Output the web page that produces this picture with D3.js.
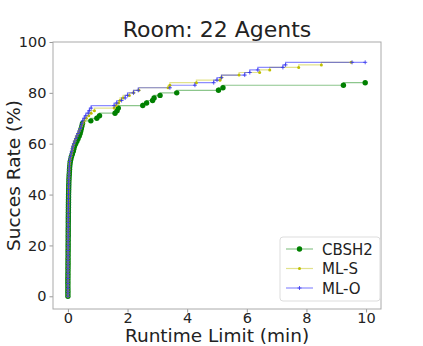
<!DOCTYPE html>
<html><head><meta charset="utf-8">
<script src="https://cdn.jsdelivr.net/npm/d3@7"></script>
<style>body{margin:0;background:#fff}svg{display:block}text{font-family:"DejaVu Sans",sans-serif;fill:#222}</style>
</head><body>
<svg id="c" width="423" height="346"></svg>
<script>
const title = "Room: 22 Agents";
const xLabel = "Runtime Limit (min)";
const yLabel = "Succes Rate (%)";
const xTicks = [0, 2, 4, 6, 8, 10];
const yTicks = [0, 20, 40, 60, 80, 100];
const seriesNames = ["CBSH2", "ML-S", "ML-O"];
// runtimes (min) at which the success rate reaches each successive value
const cbsh2Time = [0,0,0,0,0,0,0,0,0.002,0.002,0.003,0.003,0.004,0.004,0.005,0.005,0.006,0.006,0.007,0.007,0.008,0.008,0.009,0.009,0.01,0.01,0.011,0.011,0.012,0.012,0.013,0.013,0.014,0.015,0.016,0.017,0.018,0.019,0.02,0.021,0.022,0.024,0.026,0.028,0.03,0.033,0.036,0.04,0.045,0.05,0.055,0.06,0.07,0.08,0.1,0.12,0.15,0.18,0.2,0.22,0.26,0.3,0.34,0.38,0.41,0.43,0.45,0.47,0.49,0.77,0.97,1.06,1.58,1.65,1.69,2.51,2.64,2.84,2.89,3.09,3.65,5.05,5.2,9.24,9.97];
const cbsh2Rate = [0,1,2,3,4,5,6,7,8,9,10,11,12,13,14,15,16,17,18,19,20,21,22,23,24,25,26,27,28,29,30,31,32,33,34,35,36,37,38,39,40,41,42,43,44,45,46,47,48,49,50,51,52,53,54,55,56,57,58,59,60,61,62,63,64,65,66,67,68,69,70,71,72,73,74,75,76,77,78,79,80,81,82,83,84];
const mlsTime = [0,0,0,0,0,0,0,0,0.001,0.001,0.002,0.002,0.003,0.003,0.004,0.004,0.005,0.005,0.006,0.006,0.007,0.007,0.008,0.008,0.009,0.009,0.01,0.01,0.011,0.011,0.012,0.012,0.013,0.014,0.015,0.016,0.017,0.018,0.019,0.02,0.021,0.022,0.023,0.025,0.027,0.029,0.031,0.034,0.037,0.04,0.044,0.048,0.055,0.065,0.08,0.1,0.12,0.14,0.16,0.18,0.2,0.23,0.26,0.3,0.34,0.38,0.42,0.46,0.5,0.55,0.62,0.7,0.78,0.89,1.55,1.62,1.7,1.75,1.85,2.06,2.2,2.38,3.36,3.42,4.31,5.1,5.15,5.74,6.43,6.77,7.74,8.5,9.5];
const mlsRate = [0,1,2,3,4,5,6,7,8,9,10,11,12,13,14,15,16,17,18,19,20,21,22,23,24,25,26,27,28,29,30,31,32,33,34,35,36,37,38,39,40,41,42,43,44,45,46,47,48,49,50,51,52,53,54,55,56,57,58,59,60,61,62,63,64,65,66,67,68,69,70,71,72,73,74,75,76,77,78,79,80,81,82,83,84,85,86,87,88,89,90,91,92,92];
const mloTime = [0,0,0,0,0,0,0,0,0.001,0.001,0.002,0.002,0.003,0.003,0.004,0.004,0.005,0.005,0.006,0.006,0.007,0.007,0.008,0.008,0.009,0.009,0.01,0.01,0.011,0.011,0.012,0.012,0.013,0.014,0.015,0.016,0.017,0.018,0.019,0.02,0.021,0.022,0.023,0.025,0.027,0.029,0.031,0.034,0.037,0.04,0.043,0.047,0.052,0.06,0.07,0.09,0.11,0.13,0.15,0.17,0.2,0.23,0.27,0.3,0.34,0.38,0.42,0.45,0.47,0.5,0.55,0.6,0.68,0.72,0.78,1.55,1.64,1.8,1.92,2.0,2.2,2.36,3.42,4.26,4.89,5.0,5.15,5.93,6.1,6.37,7.21,7.3,9.53,9.97];
const mloRate = [0,1,2,3,4,5,6,7,8,9,10,11,12,13,14,15,16,17,18,19,20,21,22,23,24,25,26,27,28,29,30,31,32,33,34,35,36,37,38,39,40,41,42,43,44,45,46,47,48,49,50,51,52,53,54,55,56,57,58,59,60,61,62,63,64,65,66,67,68,69,70,71,72,73,74,75,76,77,78,79,80,81,82,83,84,85,86,87,88,89,90,91,92,92];

const series = [
  {name: seriesNames[0], t: cbsh2Time, r: cbsh2Rate, color: "#008000", marker: "dot", mcolor: "#008000", size: 2.7},
  {name: seriesNames[1], t: mlsTime, r: mlsRate, color: "#bfbf00", marker: "dot", mcolor: "#bfbf00", size: 1.5},
  {name: seriesNames[2], t: mloTime, r: mloRate, color: "#0000ff", marker: "plus", mcolor: "#3333ee", size: 2}
];

const svg = d3.select("#c");
const L = 53, R = 381, T = 42, B = 309;
const x = d3.scaleLinear().domain([-0.5, 10.5]).range([L, R]);
const y = d3.scaleLinear().domain([-5, 100]).range([B, T]);

// axes
const xa = svg.append("g").attr("transform", `translate(0,${B})`)
  .call(d3.axisBottom(x).tickValues(xTicks).tickSize(3.5).tickPadding(0).tickFormat(d3.format("d")));
const ya = svg.append("g").attr("transform", `translate(${L},0)`)
  .call(d3.axisLeft(y).tickValues(yTicks).tickSize(3.5).tickPadding(3).tickFormat(d3.format("d")));
[xa, ya].forEach(a => {
  a.select(".domain").remove();
  a.selectAll(".tick line").attr("stroke", "#999");
  a.selectAll(".tick text").style("font-size", "14.5px").style("font-family", "DejaVu Sans").attr("fill", "#222");
});
// spines
svg.append("rect").attr("x", L).attr("y", T).attr("width", R - L).attr("height", B - T)
  .attr("fill", "none").attr("stroke", "#aaa").attr("stroke-width", 1);

const plot = svg.append("g");
series.forEach(s => {
  const pts = s.t.map((t, i) => [t, s.r[i]]);
  const line = d3.line().x(d => x(d[0])).y(d => y(d[1])).curve(d3.curveStepBefore);
  plot.append("path").attr("d", line(pts)).attr("fill", "none")
    .attr("stroke", s.color).attr("stroke-opacity", 0.45).attr("stroke-width", 1.2);
});
series.forEach(s => {
  const pts = s.t.map((t, i) => [t, s.r[i]]);
  const g = plot.append("g");
  if (s.marker === "dot") {
    g.selectAll("circle").data(pts).join("circle")
      .attr("cx", d => x(d[0])).attr("cy", d => y(d[1])).attr("r", s.size).attr("fill", s.mcolor);
  } else {
    g.selectAll("path").data(pts).join("path")
      .attr("d", d => `M${x(d[0]) - s.size},${y(d[1])}h${2 * s.size}M${x(d[0])},${y(d[1]) - s.size}v${2 * s.size}`)
      .attr("stroke", s.mcolor).attr("stroke-width", 0.8).attr("fill", "none");
  }
});

// title and labels
svg.append("text").attr("x", (L + R) / 2).attr("y", 37).attr("text-anchor", "middle")
  .style("font-size", "22px").text(title);
svg.append("text").attr("x", (L + R) / 2).attr("y", 342).attr("text-anchor", "middle")
  .style("font-size", "18.5px").text(xLabel);
svg.append("text").attr("transform", `translate(20,${(T + B) / 2}) rotate(-90)`).attr("text-anchor", "middle")
  .style("font-size", "18.5px").text(yLabel);

// legend
const lg = svg.append("g");
lg.append("rect").attr("x", 280).attr("y", 237).attr("width", 100).attr("height", 64).attr("rx", 3)
  .attr("fill", "#fff").attr("fill-opacity", 0.8).attr("stroke", "#ddd");
series.forEach((s, i) => {
  const yy = 249 + i * 19.5;
  lg.append("line").attr("x1", 286).attr("x2", 313).attr("y1", yy).attr("y2", yy)
    .attr("stroke", s.color).attr("stroke-opacity", 0.45).attr("stroke-width", 1.2);
  if (s.marker === "dot") {
    lg.append("circle").attr("cx", 299.5).attr("cy", yy).attr("r", s.size).attr("fill", s.mcolor);
  } else {
    lg.append("path").attr("d", `M${299.5 - s.size},${yy}h${2 * s.size}M299.5,${yy - s.size}v${2 * s.size}`)
      .attr("stroke", s.mcolor).attr("stroke-width", 0.8);
  }
  lg.append("text").attr("x", 322).attr("y", yy + 5.5).style("font-size", "15px").text(s.name);
});
</script>
</body></html>
